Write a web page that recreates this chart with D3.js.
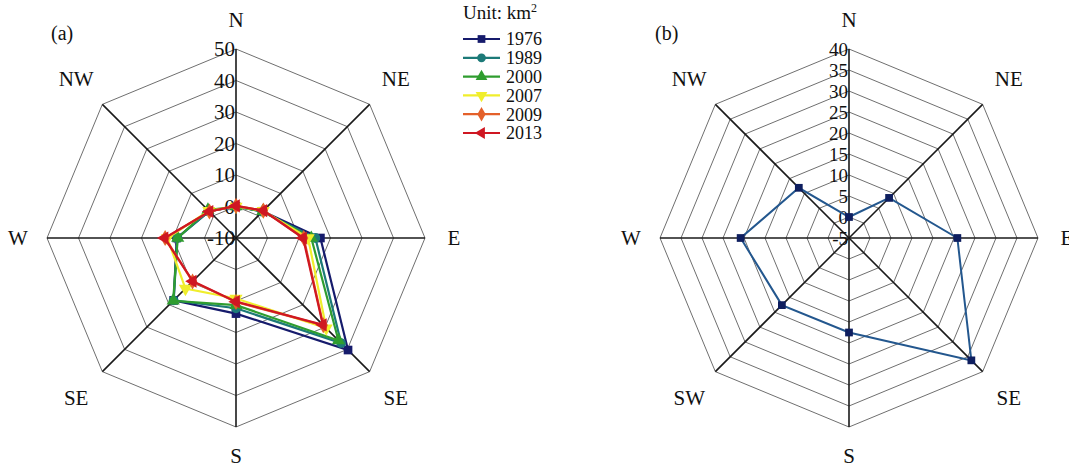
<!DOCTYPE html>
<html>
<head>
<meta charset="utf-8">
<script src="https://cdn.jsdelivr.net/npm/d3@7"></script>
<style>
  body { margin: 0; background: #fff; }
</style>
</head>
<body>
<div id="chart"></div>
<script>
'use strict';

// directions (clockwise from north)
var dirs = ['N', 'NE', 'E', 'SE', 'S', 'SW', 'W', 'NW']
var dirLabelsA = ['N', 'NE', 'E', 'SE', 'S', 'SE', 'W', 'NW']
var dirLabelsB = ['N', 'NE', 'E', 'SE', 'S', 'SW', 'W', 'NW']

// (a) area by direction, km2
var years = ['1976', '1989', '2000', '2007', '2009', '2013']
var s1976 = [0.0, 2.0, 16.8, 40.3, 14.0, 18.0, 8.8, 2.0]
var s1989 = [0.0, 1.8, 15.2, 37.2, 12.3, 18.0, 8.6, 2.0]
var s2000 = [0.0, 2.0, 13.9, 36.0, 11.3, 18.2, 8.5, 2.6]
var s2007 = [0.0, 2.2, 12.9, 30.5, 9.2, 12.7, 11.8, 2.2]
var s2009 = [0.2, 2.3, 11.5, 29.2, 10.3, 9.5, 12.5, 1.9]
var s2013 = [0.2, 2.3, 11.3, 29.0, 10.2, 9.4, 12.7, 1.9]
var ticksA = [-10, 0, 10, 20, 30, 40, 50]

// (b)
var sB = [0.0, 8.5, 20.8, 36.2, 17.5, 17.6, 20.8, 11.9]
var ticksB = [-5, 0, 5, 10, 15, 20, 25, 30, 35, 40]

var colors = ['#161b6c', '#1c7a78', '#2f9d2f', '#f0ee2c', '#e4602a', '#cf1722']
var symbols = [
  {t: d3.symbolSquare, rot: 0},
  {t: d3.symbolCircle, rot: 0},
  {t: d3.symbolTriangle, rot: 0},
  {t: d3.symbolTriangle, rot: 180},
  {t: d3.symbolDiamond, rot: 0},
  {t: d3.symbolTriangle, rot: -90}
]
var seriesA = [s1976, s1989, s2000, s2007, s2009, s2013]

var svg = d3.select('#chart').append('svg')
  .attr('width', 1069).attr('height', 468)
  .attr('font-family', '"Liberation Serif", "Times New Roman", "DejaVu Serif", serif')
  .style('fill', '#111')

function radar(cx, cy, R, ticks, labels, labelSize, tickSize) {
  var g = svg.append('g').attr('transform', 'translate(' + cx + ',' + cy + ')')
  var r = d3.scaleLinear().domain([ticks[0], ticks[ticks.length - 1]]).range([0, R])
  var ang = d3.scalePoint().domain(dirs).range([0, 2 * Math.PI * 7 / 8])

  // rings
  var ring = d3.lineRadial().curve(d3.curveLinearClosed)
  ticks.slice(1).forEach(function(t) {
    g.append('path')
      .attr('d', ring(dirs.map(function(d) { return [ang(d), r(t)] })))
      .style('fill', 'none').style('stroke', '#6f6f6f').style('stroke-width', 1)
  })
  // spokes
  dirs.forEach(function(d) {
    var a = ang(d)
    g.append('line')
      .attr('x1', 0).attr('y1', 0)
      .attr('x2', R * Math.sin(a)).attr('y2', -R * Math.cos(a))
      .style('stroke', '#1a1a1a').style('stroke-width', 1.6)
  })
  // direction labels
  dirs.forEach(function(d, i) {
    var a = ang(d)
    var lr = (i % 2 === 0) ? R + 29 : R + 37
    g.append('text')
      .attr('x', lr * Math.sin(a)).attr('y', -lr * Math.cos(a))
      .attr('text-anchor', 'middle').attr('dy', '0.35em')
      .style('font-size', labelSize + 'px')
      .text(labels[i])
  })
  // tick labels along N spoke
  ticks.forEach(function(t) {
    g.append('text')
      .attr('x', -1).attr('y', -r(t))
      .attr('text-anchor', 'end').attr('dy', '0.35em')
      .style('font-size', tickSize + 'px')
      .text(t)
  })
  return {g: g, r: r, ang: ang}
}

function drawSeries(p, vals, lineColor, markColor, sym, lw, size) {
  var line = d3.lineRadial().curve(d3.curveLinearClosed)
  p.g.append('path')
    .attr('d', line(dirs.map(function(d, i) { return [p.ang(d), p.r(vals[i])] })))
    .style('fill', 'none').style('stroke', lineColor).style('stroke-width', lw)
  p.g.selectAll(null).data(vals).enter().append('path')
    .attr('d', d3.symbol().type(sym.t).size(size))
    .attr('transform', function(v, i) {
      var a = p.ang(dirs[i]), rr = p.r(v)
      return 'translate(' + (rr * Math.sin(a)) + ',' + (-rr * Math.cos(a)) + ') rotate(' + sym.rot + ')'
    })
    .style('fill', markColor)
}

// (a)
var pa = radar(236, 238, 189, ticksA, dirLabelsA, 21, 21)
seriesA.forEach(function(s, i) {
  drawSeries(pa, s, colors[i], colors[i], symbols[i], 2.2, 75)
})
svg.append('text').attr('x', 51).attr('y', 40).style('font-size', '20px').text('(a)')

// legend
var lg = svg.append('g').attr('transform', 'translate(463,0)')
var ut = lg.append('text').attr('x', 0).attr('y', 19).style('font-size', '19px')
ut.append('tspan').text('Unit: km')
ut.append('tspan').attr('dy', -7).style('font-size', '12px').text('2')
years.forEach(function(y, i) {
  var yy = 39 + i * 18.8
  lg.append('line').attr('x1', 0).attr('x2', 37).attr('y1', yy).attr('y2', yy)
    .style('stroke', colors[i]).style('stroke-width', 2.2)
  lg.append('path').attr('d', d3.symbol().type(symbols[i].t).size(60))
    .attr('transform', 'translate(18.5,' + yy + ') rotate(' + symbols[i].rot + ')')
    .style('fill', colors[i])
  lg.append('text').attr('x', 43).attr('y', yy).attr('dy', '0.35em')
    .style('font-size', '18px').text(y)
})

// (b)
var pb = radar(849, 238, 189, ticksB, dirLabelsB, 21, 19)
drawSeries(pb, sB, '#23578e', '#0e1e5f', symbols[0], 2, 60)
svg.append('text').attr('x', 655).attr('y', 40).style('font-size', '20px').text('(b)')
</script>
</body>
</html>
